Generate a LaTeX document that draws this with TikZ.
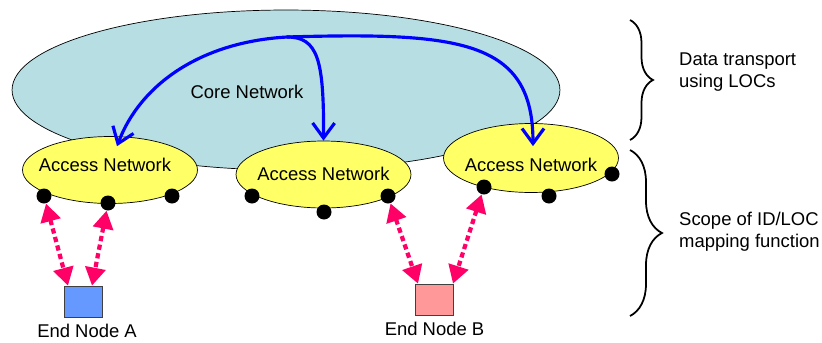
\documentclass[tikz,border=0pt]{standalone}
\usepackage{fontspec}
\setmainfont{Liberation Sans}
\usepackage{tikz}
\usetikzlibrary{shapes.geometric, arrows.meta, positioning, decorations.pathreplacing}
\definecolor{corefill}{RGB}{183,222,226}
\definecolor{accfill}{RGB}{255,255,102}
\definecolor{nodeA}{RGB}{102,153,255}
\definecolor{nodeB}{RGB}{255,153,153}
\definecolor{mappink}{RGB}{255,0,102}
\definecolor{routeblue}{RGB}{0,0,255}
\tikzstyle{core} = [ellipse, draw=black, fill=corefill, minimum width=10.96cm, minimum height=3.2cm, inner sep=0pt]
\tikzstyle{access} = [ellipse, draw=black, fill=accfill, minimum width=3.5cm, minimum height=1.34cm, inner sep=0pt]
\tikzstyle{port} = [circle, fill=black, minimum size=0.3cm, inner sep=0pt]
\tikzstyle{endnode} = [rectangle, draw=black!75, minimum width=0.76cm, minimum height=0.62cm, inner sep=0pt]
\tikzstyle{route} = [line width=1.8pt, draw=routeblue, -{Straight Barb[length=0.3cm,width=0.44cm]}]
\tikzstyle{mapping} = [line width=2.4pt, draw=mappink, dash pattern=on 3pt off 2pt, {Triangle[length=0.36cm,width=0.4cm]}-{Triangle[length=0.36cm,width=0.4cm]}]
\tikzstyle{scope} = [decorate, line width=1pt]

\begin{document}
\begin{tikzpicture}[x=0.02cm, y=-0.02cm, font=\fontsize{10.5}{12.6}\selectfont]
    \useasboundingbox (0,0) rectangle (822,342);
    % core and access networks
    \node (core) [core, label={[xshift=-0.78cm, yshift=-0.04cm]center:Core Network}] at (286,90) {};
    \node (acc1) [access, label={[xshift=-0.1cm, yshift=0.1cm]center:Access Network}] at (110,170) {};
    \node (acc2) [access, label={[yshift=0.02cm]center:Access Network}] at (323.5,174.5) {};
    \node (acc3) [access, minimum height=1.38cm, label={[yshift=-0.14cm]center:Access Network}] at (531,158) {};
    \node (p11) [port] at (44,196) {};
    \node (p12) [port] at (108,203) {};
    \node (p13) [port] at (172,196) {};
    \node (p21) [port] at (252,196) {};
    \node (p22) [port] at (324,212) {};
    \node (p23) [port] at (388,196) {};
    \node (p31) [port] at (484,187) {};
    \node (p32) [port] at (549,196) {};
    \node (p33) [port] at (612,174) {};
    % end nodes
    \node (endA) [endnode, fill=nodeA] at (83,301.5) {};
    \node (endB) [endnode, fill=nodeB] at (434.5,299.5) {};
    \node (labA) [below=0.5pt of endA, xshift=0.08cm] {End Node A};
    \node (labB) [below=0.5pt of endB] {End Node B};
    % transport over the core
    \coordinate (src) at (287,37);
    \draw [route] (src) .. controls (200,42) and (140,85) .. ([xshift=0.14cm,yshift=-0.2cm]acc1.north);
    \draw [route] (src) .. controls (318,37) and (324,60) .. (acc2.north);
    \draw [route] (src) .. controls (460,32) and (533,40) .. ([xshift=0.04cm,yshift=-0.46cm]acc3.north);
    % ID/LOC mapping
    \draw [mapping] (p11) -- ([xshift=-0.3cm]endA.north);
    \draw [mapping] (p12) -- ([xshift=0.18cm]endA.north);
    \draw [mapping] (p23) -- ([xshift=-0.33cm]endB.north);
    \draw [mapping] (p31) -- ([xshift=0.37cm]endB.north);
    % braces
    \draw [scope, decoration={brace, amplitude=0.46cm}] (630,20) -- (630,140);
    \draw [scope, decoration={brace, amplitude=0.64cm}] (630,150) -- (630,316);
    \node (transport) [anchor=west, align=left] at (673,72) {Data transport\\using LOCs};
    \node (mapscope) [anchor=west, align=left] at (673,232) {Scope of ID/LOC\\mapping function};
\end{tikzpicture}
\end{document}
